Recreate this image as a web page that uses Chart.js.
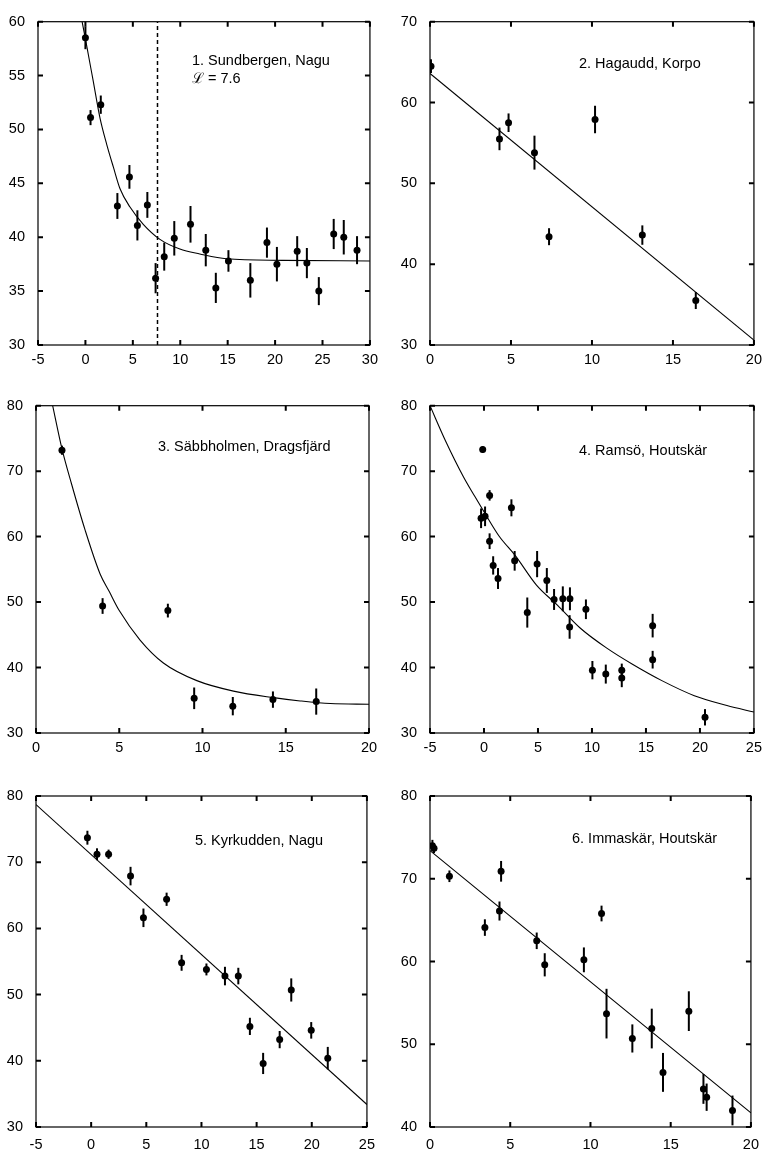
<!DOCTYPE html>
<html>
<head>
<meta charset="utf-8">
<script src="https://cdn.jsdelivr.net/npm/chart.js@4.4.1/dist/chart.umd.min.js"></script>
<style>
  body { margin: 0; background: #fff; }
  #wrap { position: relative; width: 768px; height: 1153px; }
  canvas { position: absolute; }
</style>
</head>
<body>
<div id="wrap">
  <canvas id="c1" width="384" height="384" style="left:0;top:0"></canvas>
  <canvas id="c2" width="384" height="384" style="left:384px;top:0"></canvas>
  <canvas id="c3" width="384" height="384" style="left:0;top:384px"></canvas>
  <canvas id="c4" width="384" height="384" style="left:384px;top:384px"></canvas>
  <canvas id="c5" width="384" height="385" style="left:0;top:768px"></canvas>
  <canvas id="c6" width="384" height="385" style="left:384px;top:768px"></canvas>
</div>
<script>
// 1. Sundbergen, Nagu
const p1X = [0.0, 0.54, 1.62, 3.37, 4.64, 5.48, 6.53, 7.4, 8.31, 9.37, 11.08, 12.69, 13.75, 15.08, 17.39, 19.14, 20.19, 22.33, 23.35, 24.61, 26.18, 27.24, 28.64];
const p1Y = [58.5, 51.1, 52.3, 42.9, 45.6, 41.1, 43.0, 36.2, 38.2, 39.9, 41.2, 38.8, 35.3, 37.8, 36.0, 39.5, 37.5, 38.7, 37.6, 35.0, 40.3, 40.0, 38.8];
const p1Err = [1.05, 0.7, 0.85, 1.2, 1.1, 1.4, 1.2, 1.4, 1.3, 1.6, 1.7, 1.5, 1.4, 1.0, 1.6, 1.4, 1.6, 1.4, 1.4, 1.3, 1.4, 1.6, 1.3];
const p1FitX = [-0.35, 0.0, 0.8, 1.55, 2.25, 2.95, 3.65, 4.7, 6.1, 7.86, 9.96, 12.06, 14.87, 20.8, 30];
const p1FitY = [60.0, 58.4, 54.6, 51.0, 48.6, 46.5, 44.5, 42.8, 41.2, 39.8, 38.9, 38.45, 38.0, 37.85, 37.8];
const p1Cut = 7.6;

// 2. Hagaudd, Korpo
const p2X = [0.06, 4.29, 4.85, 6.45, 7.35, 10.19, 13.11, 16.41];
const p2Y = [64.5, 55.5, 57.5, 53.8, 43.4, 57.9, 43.6, 35.5];
const p2Err = [0.85, 1.4, 1.15, 2.1, 1.05, 1.7, 1.2, 1.05];
const p2FitX = [0, 20];
const p2FitY = [63.6, 30.6];

// 3. Säbbholmen, Dragsfjärd
const p3X = [1.56, 4.0, 7.92, 9.5, 11.82, 14.23, 16.83];
const p3Y = [73.2, 49.4, 48.7, 35.3, 34.1, 35.1, 34.8];
const p3Err = [0.7, 1.2, 1.05, 1.65, 1.4, 1.25, 2.0];
const p3FitX = [1.0, 1.56, 2.14, 2.95, 3.85, 4.4, 5.0, 6.25, 7.65, 9.66, 11.86, 14.27, 15.87, 17.68, 20];
const p3FitY = [80, 73.4, 68.0, 61.0, 54.3, 51.6, 48.7, 44.2, 40.7, 38.0, 36.4, 35.4, 34.9, 34.5, 34.4];

// 4. Ramsö, Houtskär
const p4X = [-0.12, -0.27, 0.1, 0.52, 0.52, 0.85, 1.3, 2.54, 2.84, 4.01, 4.92, 5.82, 6.49, 7.30, 7.96, 7.93, 9.44, 10.04, 11.28, 12.76, 12.76, 15.62, 15.62, 20.47];
const p4Y = [73.3, 62.8, 63.1, 66.3, 59.3, 55.6, 53.6, 64.4, 56.3, 48.4, 55.8, 53.3, 50.4, 50.5, 50.5, 46.2, 48.9, 39.6, 39.0, 39.6, 38.4, 46.4, 41.2, 32.4];
const p4Err = [0.5, 1.5, 1.5, 0.8, 1.2, 1.4, 1.6, 1.3, 1.5, 2.3, 2.0, 1.9, 1.6, 1.9, 1.75, 1.8, 1.5, 1.4, 1.45, 1.0, 1.4, 1.8, 1.35, 1.25];
const p4FitX = [-5, -3.58, -1.92, -0.87, 0, 1.39, 2.9, 4.86, 6.82, 8.93, 11.34, 13.75, 16.47, 19.48, 22.5, 25];
const p4FitY = [80, 74.7, 69.2, 66.2, 63.8, 60.1, 57.1, 52.6, 49.5, 46.0, 43.0, 40.5, 38.0, 35.7, 34.2, 33.2];

// 5. Kyrkudden, Nagu
const p5X = [-0.34, 0.53, 1.58, 3.57, 4.74, 6.84, 8.2, 10.45, 12.13, 13.34, 14.39, 15.59, 17.09, 18.14, 19.95, 21.45];
const p5Y = [73.7, 71.2, 71.2, 67.9, 61.6, 64.4, 54.8, 53.8, 52.8, 52.8, 45.2, 39.6, 43.2, 50.7, 44.6, 40.4];
const p5Err = [1.05, 0.9, 0.7, 1.4, 1.4, 1.0, 1.2, 0.9, 1.4, 1.25, 1.3, 1.6, 1.3, 1.75, 1.25, 1.7];
const p5FitX = [-5, 25];
const p5FitY = [78.7, 33.4];

// 6. Immaskär, Houtskär
const p6X = [0.15, 0.25, 1.21, 3.42, 4.33, 4.43, 6.65, 7.15, 9.59, 10.69, 11.0, 12.61, 13.82, 14.52, 16.13, 17.04, 17.24, 18.85];
const p6Y = [74.0, 73.7, 70.3, 64.1, 66.1, 70.9, 62.5, 59.6, 60.2, 65.8, 53.7, 50.7, 51.9, 46.6, 54.0, 44.6, 43.6, 42.0];
const p6Err = [0.7, 0.6, 0.7, 1.0, 1.15, 1.25, 1.0, 1.4, 1.5, 0.95, 3.0, 1.7, 2.4, 2.35, 2.4, 1.8, 1.65, 1.8];
const p6FitX = [0, 20];
const p6FitY = [73.4, 41.7];

const FONT = 'Liberation Sans, Arial, sans-serif';

const zip = (xs, ys) => xs.map((x, i) => ({ x: x, y: ys[i] }));

// frame, inward ticks, error bars and panel captions
const decor = {
  id: 'decor',
  afterDatasetsDraw(chart) {
    const ctx = chart.ctx, a = chart.chartArea;
    const xs = chart.scales.x, ys = chart.scales.y;
    const o = chart.options.plugins.decor;
    ctx.save();
    // error bars
    const ds = chart.data.datasets[0];
    ctx.strokeStyle = '#000';
    ctx.lineWidth = 2;
    ds.data.forEach((p, i) => {
      const px = xs.getPixelForValue(p.x);
      ctx.beginPath();
      ctx.moveTo(px, ys.getPixelForValue(p.y - ds.err[i]));
      ctx.lineTo(px, ys.getPixelForValue(p.y + ds.err[i]));
      ctx.stroke();
    });
    // frame
    ctx.lineWidth = 1.2;
    ctx.strokeRect(a.left, a.top, a.right - a.left, a.bottom - a.top);
    // ticks
    ctx.lineWidth = 2;
    ctx.beginPath();
    xs.ticks.forEach(t => {
      const px = xs.getPixelForValue(t.value);
      ctx.moveTo(px, a.bottom); ctx.lineTo(px, a.bottom - 5);
      ctx.moveTo(px, a.top); ctx.lineTo(px, a.top + 5);
    });
    ys.ticks.forEach(t => {
      const py = ys.getPixelForValue(t.value);
      ctx.moveTo(a.left, py); ctx.lineTo(a.left + 5, py);
      ctx.moveTo(a.right, py); ctx.lineTo(a.right - 5, py);
    });
    ctx.stroke();
    // captions
    ctx.fillStyle = '#000';
    ctx.font = '14.5px ' + FONT;
    ctx.textAlign = 'left';
    ctx.textBaseline = 'alphabetic';
    o.lines.forEach((s, k) => ctx.fillText(s, a.left + o.dx, a.top + o.dy + k * 18));
    ctx.restore();
  }
};

function panel(id, s) {
  const datasets = [
    {
      data: zip(s.px, s.py), err: s.err,
      showLine: false, pointRadius: 3.5, pointHoverRadius: 3.5,
      pointBackgroundColor: '#000', pointBorderColor: '#000', pointBorderWidth: 0
    },
    {
      data: zip(s.fx, s.fy), showLine: true, pointRadius: 0,
      borderColor: '#000', borderWidth: 1.1, cubicInterpolationMode: 'monotone'
    }
  ];
  if (s.cut !== undefined) {
    datasets.push({
      data: [{ x: s.cut, y: s.ymin }, { x: s.cut, y: s.ymax }], showLine: true, pointRadius: 0,
      borderColor: '#000', borderWidth: 1.5, borderDash: [4, 3]
    });
  }
  new Chart(document.getElementById(id), {
    type: 'scatter',
    data: { datasets: datasets },
    options: {
      responsive: false,
      animation: false,
      layout: { padding: { top: s.top, right: s.right, left: 0, bottom: 0 } },
      plugins: {
        legend: { display: false },
        tooltip: { enabled: false },
        decor: { lines: s.lines, dx: s.dx, dy: s.dy }
      },
      scales: {
        x: {
          type: 'linear', min: s.xmin, max: s.xmax,
          grid: { display: false, drawTicks: false },
          border: { display: false },
          afterFit: sc => { sc.height = s.xh; },
          ticks: { stepSize: 5, padding: s.xpad, color: '#000', font: { family: FONT, size: 14.5 } }
        },
        y: {
          type: 'linear', min: s.ymin, max: s.ymax,
          grid: { display: false, drawTicks: false },
          border: { display: false },
          afterFit: sc => { sc.width = s.yw; },
          ticks: { stepSize: s.ystep, padding: 13, color: '#000', font: { family: FONT, size: 14.5 } }
        }
      }
    },
    plugins: [decor]
  });
}

panel('c1', { px: p1X, py: p1Y, err: p1Err, fx: p1FitX, fy: p1FitY, cut: p1Cut,
  xmin: -5, xmax: 30, ymin: 30, ymax: 60, ystep: 5,
  yw: 38, xh: 39, top: 14, right: 13, xpad: 6,
  lines: ['1. Sundbergen, Nagu', '\u2112 = 7.6'], dx: 154, dy: 43 });
panel('c2', { px: p2X, py: p2Y, err: p2Err, fx: p2FitX, fy: p2FitY,
  xmin: 0, xmax: 20, ymin: 30, ymax: 70, ystep: 10,
  yw: 46, xh: 39, top: 14, right: 7, xpad: 6,
  lines: ['2. Hagaudd, Korpo'], dx: 149, dy: 46 });
panel('c3', { px: p3X, py: p3Y, err: p3Err, fx: p3FitX, fy: p3FitY,
  xmin: 0, xmax: 20, ymin: 30, ymax: 80, ystep: 10,
  yw: 36, xh: 35, top: 18, right: 15, xpad: 6,
  lines: ['3. Säbbholmen, Dragsfjärd'], dx: 122, dy: 45 });
panel('c4', { px: p4X, py: p4Y, err: p4Err, fx: p4FitX, fy: p4FitY,
  xmin: -5, xmax: 25, ymin: 30, ymax: 80, ystep: 10,
  yw: 46, xh: 35, top: 18, right: 6, xpad: 6,
  lines: ['4. Ramsö, Houtskär'], dx: 149, dy: 49 });
panel('c5', { px: p5X, py: p5Y, err: p5Err, fx: p5FitX, fy: p5FitY,
  xmin: -5, xmax: 25, ymin: 30, ymax: 80, ystep: 10,
  yw: 36, xh: 26, top: 28, right: 15, xpad: 9,
  lines: ['5. Kyrkudden, Nagu'], dx: 159, dy: 49 });
panel('c6', { px: p6X, py: p6Y, err: p6Err, fx: p6FitX, fy: p6FitY,
  xmin: 0, xmax: 20, ymin: 40, ymax: 80, ystep: 10,
  yw: 46, xh: 26, top: 28, right: 7, xpad: 9,
  lines: ['6. Immaskär, Houtskär'], dx: 142, dy: 47 });
</script>
</body>
</html>
